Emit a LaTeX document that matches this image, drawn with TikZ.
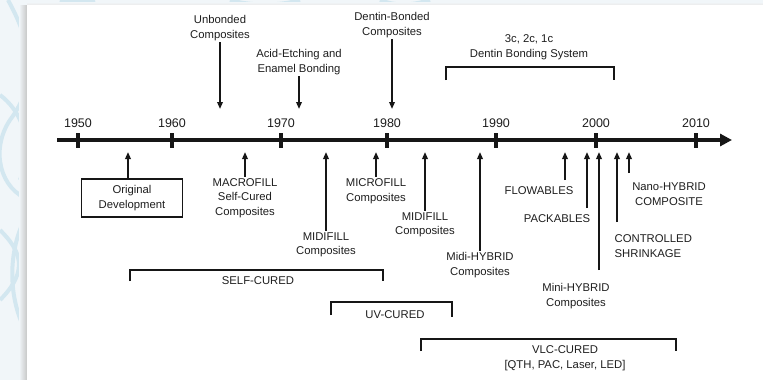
\documentclass[tikz,border=0pt]{standalone}
\usepackage{fontspec}
\setmainfont{Liberation Sans}
\usetikzlibrary{arrows.meta}
\definecolor{ink}{HTML}{161616}
\definecolor{txt}{HTML}{1E1E1E}
\definecolor{bgc}{HTML}{F1F6F9}
\definecolor{swirl}{HTML}{D3E7F0}
\newcommand{\lblfont}{\fontsize{11.3}{14.5}\selectfont}
\newcommand{\yrfont}{\fontsize{12.5}{14}\selectfont}
\tikzset{
  lbl/.style={align=center, inner sep=1.5pt, font=\lblfont, text=txt},
  yr/.style={font=\yrfont, text=txt, inner sep=0pt},
  arr/.style={line width=1.7pt, draw=ink, -{Triangle[length=7pt,width=5.5pt]}},
  brk/.style={line width=1.8pt, draw=ink},
  tickmark/.style={line width=4.5pt, draw=ink},
  axis/.style={line width=4.5pt, draw=ink, -{Triangle[length=12pt,width=12pt]}},
  swirlline/.style={line width=4pt, draw=swirl}
}
\begin{document}
\begin{tikzpicture}[x=1pt,y=-1pt]
\useasboundingbox (0,0) rectangle (763,380);
% background
\fill[bgc] (0,0) rectangle (763,380);
\draw[swirlline] (8,0) .. controls (30,40) and (40,80) .. (10,120) .. controls (-10,150) and (0,190) .. (30,200);
\draw[swirlline] (0,95) .. controls (20,110) and (35,140) .. (20,180);
\draw[swirlline] (0,230) .. controls (20,250) and (30,270) .. (0,300);
\draw[swirlline] (30,210) .. controls (10,240) and (5,290) .. (25,330);
\draw[swirlline] (60,0) .. controls (70,3) and (80,3) .. (95,0);
\draw[swirlline] (230,0) .. controls (250,6) and (280,6) .. (300,0);
\draw[swirlline] (380,0) .. controls (395,6) and (410,6) .. (430,0);
\shade[left color=bgc, right color=black!22] (19,5) rectangle (27,380);
\shade[top color=bgc, bottom color=black!8] (27,2) rectangle (763,5);
\fill[white] (27,5) rectangle (763,380);

% axis
\coordinate (axS) at (57,140);
\coordinate (axE) at (732,140);
\draw[axis] (axS) -- (axE);
\foreach \x/\y in {78/1950,172/1960,281/1970,387/1980,496/1990,596/2000,696/2010}{
  \draw[tickmark] (\x,133) -- (\x,148);
  \node[yr] (y\y) at (\x,123) {\y};
}
\coordinate (up) at (0,152);
\coordinate (down) at (0,109);

% top events
\node[lbl] (unb) at (220,28) {Unbonded\\Composites};
\draw[arr] (unb) -- (unb |- down);
\node[lbl] (acid) at (299,62) {Acid-Etching and\\Enamel Bonding};
\draw[arr] (acid) -- (acid |- down);
\node[lbl] (dent) at (392,25) {Dentin-Bonded\\Composites};
\draw[arr] (dent) -- (dent |- down);
\node[lbl] (sys) at (529,47) {3c, 2c, 1c\\Dentin Bonding System};
\coordinate (sysL) at (446,67);
\coordinate (sysR) at (614,67);
\draw[brk] ([yshift=-13pt]sysL) -- (sysL) -- (sysR) -- ([yshift=-13pt]sysR);

% bottom events
\node[lbl, draw=ink, line width=1.7pt, minimum width=101pt, minimum height=38pt, inner sep=2pt] (orig) at (132,198) {Original\\Development};
\coordinate (origT) at (128,152);
\draw[arr] (orig.north -| origT) -- (origT);

\node[lbl] (mac) at (245,198) {MACROFILL\\Self-Cured\\Composites};
\draw[arr] (mac) -- (mac |- up);
\node[lbl] (midi1) at (326,245) {MIDIFILL\\Composites};
\draw[arr] (midi1) -- (midi1 |- up);
\node[lbl] (micro) at (376,191) {MICROFILL\\Composites};
\draw[arr] (micro) -- (micro |- up);
\node[lbl] (midi2) at (425,225) {MIDIFILL\\Composites};
\draw[arr] (midi2) -- (midi2 |- up);
\node[lbl] (midih) at (480,265) {Midi-HYBRID\\Composites};
\draw[arr] (midih) -- (midih |- up);

\node[lbl] (flow) at (539,191) {FLOWABLES};
\coordinate (flowB) at (565,180);
\draw[arr] (flowB) -- (flowB |- up);
\node[lbl] (pack) at (557,219) {PACKABLES};
\coordinate (packB) at (587,208);
\draw[arr] (packB) -- (packB |- up);
\node[lbl] (minih) at (576,296) {Mini-HYBRID\\Composites};
\coordinate (miniB) at (599,270);
\draw[arr] (miniB) -- (miniB |- up);
\node[lbl, align=left, anchor=west] (ctrl) at (613,246) {CONTROLLED\\SHRINKAGE};
\coordinate (ctrlB) at (617,222);
\draw[arr] (ctrlB) -- (ctrlB |- up);
\node[lbl] (nano) at (669,194) {Nano-HYBRID\\COMPOSITE};
\coordinate (nanoB) at (629,173);
\draw[arr] (nanoB) -- (nanoB |- up);

% curing brackets
\coordinate (scL) at (130,270);
\coordinate (scR) at (383,270);
\draw[brk] ([yshift=-11pt]scL) -- (scL) -- (scR) -- ([yshift=-11pt]scR);
\node[lbl] (self) at (258,281) {SELF-CURED};
\coordinate (uvL) at (331,302);
\coordinate (uvR) at (452,302);
\draw[brk] ([yshift=-13pt]uvL) -- (uvL) -- (uvR) -- ([yshift=-15pt]uvR);
\node[lbl] (uv) at (395,315) {UV-CURED};
\coordinate (vlL) at (421,339);
\coordinate (vlR) at (676,339);
\draw[brk] ([yshift=-12pt]vlL) -- (vlL) -- (vlR) -- ([yshift=-12pt]vlR);
\node[lbl] (vlc) at (565,358) {VLC-CURED\\{[}QTH, PAC, Laser, LED{]}};
\end{tikzpicture}
\end{document}
